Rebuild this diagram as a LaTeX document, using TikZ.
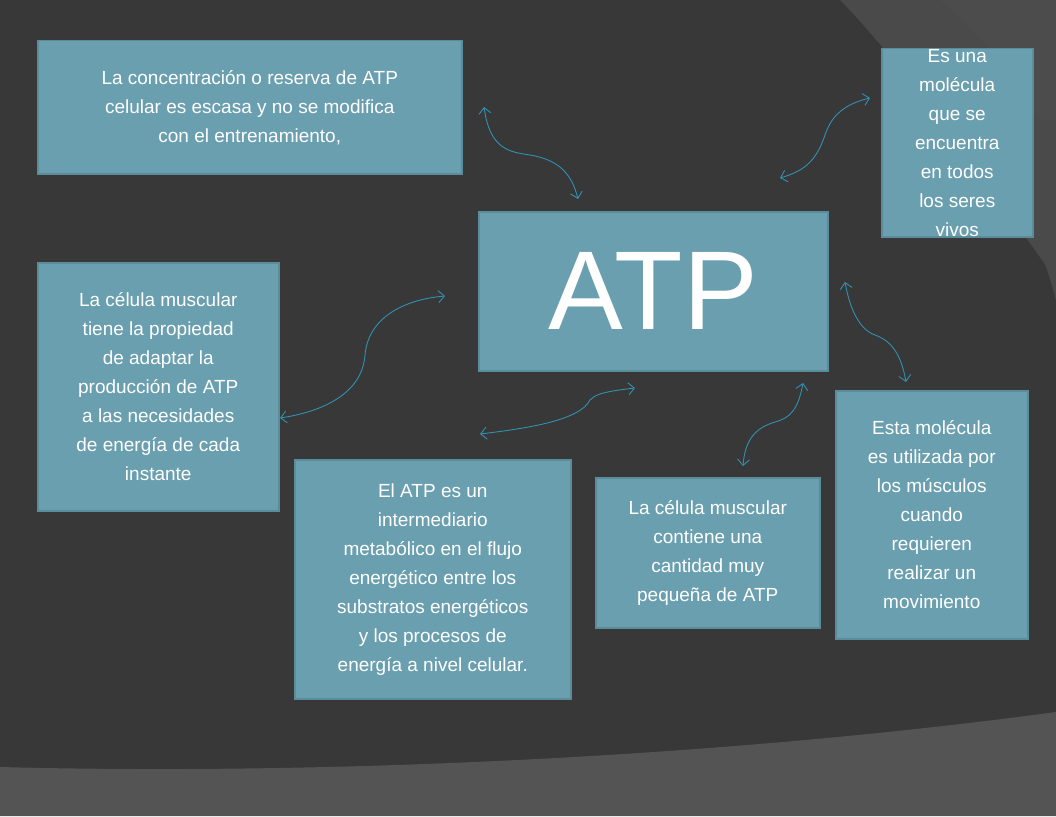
\documentclass[tikz,border=0pt]{standalone}
\usepackage{fontspec}
\setmainfont{Liberation Sans}
\usetikzlibrary{arrows.meta}
\definecolor{bg}{HTML}{383838}
\definecolor{band}{HTML}{545454}
\definecolor{arcc}{HTML}{4A4A4A}
\definecolor{boxf}{HTML}{6A9FB0}
\definecolor{boxd}{HTML}{5A8C9C}
\definecolor{arr}{HTML}{3290B0}
\begin{document}
\begin{tikzpicture}[x=1pt,y=-1pt,
  box/.style={draw=boxd,line width=1.5pt,fill=boxf,text=white,align=center,inner sep=0pt,anchor=north west,font=\fontsize{19}{29}\selectfont},
  link/.style={draw=arr,line width=0.9pt,{Straight Barb[length=6pt,width=12pt]}-{Straight Barb[length=6pt,width=12pt]}}]
\useasboundingbox (0,0) rectangle (1056,816);
\fill[bg] (0,0) rectangle (1056,816);
\fill[arcc] (840,0) .. controls (900,60) and (1000,200) .. (1056,280) -- (1056,0) -- cycle;
\fill[bg!90!white] (940,0) .. controls (990,40) and (1030,100) .. (1056,150) -- (1056,0) -- cycle;
\fill[arcc] (1056,300) .. controls (1030,200) and (980,140) .. (950,120) -- (1056,120) -- cycle;
\fill[band] (0,767) .. controls (300,775) and (700,760) .. (1056,712) -- (1056,816) -- (0,816) -- cycle;
\node[box,minimum width=424pt,minimum height=133pt] (a) at (37,40) {La concentración o reserva de ATP\\celular es escasa y no se modifica\\con el entrenamiento,};
\node[box,minimum width=151pt,minimum height=188pt] (b) at (881,48) {Es una\\molécula\\que se\\encuentra\\en todos\\los seres\\vivos};
\node[box,minimum width=349pt,minimum height=159pt,font=\fontsize{112}{112}\selectfont] (atp) at (478,211) {ATP};
\node[box,minimum width=241pt,minimum height=248pt] (c) at (37,262) {La célula muscular\\tiene la propiedad\\de adaptar la\\producción de ATP\\a las necesidades\\de energía de cada\\instante};
\node[box,minimum width=276pt,minimum height=239pt] (d) at (294,459) {El ATP es un\\intermediario\\metabólico en el flujo\\energético entre los\\substratos energéticos\\y los procesos de\\energía a nivel celular.};
\node[box,minimum width=224pt,minimum height=150pt] (e) at (595,477) {La célula muscular\\contiene una\\cantidad muy\\pequeña de ATP};
\node[box,minimum width=192pt,minimum height=248pt] (f) at (835,390) {Esta molécula\\es utilizada por\\los músculos\\cuando\\requieren\\realizar un\\movimiento};
\coordinate (a1) at (484,107); \coordinate (a2) at (578,199);
\coordinate (b1) at (870,98); \coordinate (b2) at (780,178);
\coordinate (f1) at (845,282); \coordinate (f2) at (906,382);
\coordinate (c1) at (445,296); \coordinate (c2) at (280,418);
\coordinate (d1) at (635,388); \coordinate (d2) at (480,434);
\coordinate (e1) at (803,383); \coordinate (e2) at (743,466);
\draw[link] (a1) .. controls (490,150) and (510,152) .. (530,155) .. controls (560,160) and (572,175) .. (a2);
\draw[link] (b1) .. controls (840,105) and (830,120) .. (825,135) .. controls (815,165) and (800,172) .. (b2);
\draw[link] (f1) .. controls (850,310) and (860,330) .. (875,335) .. controls (895,342) and (902,360) .. (f2);
\draw[link] (c1) .. controls (400,300) and (368,320) .. (365,355) .. controls (362,395) and (320,412) .. (c2);
\draw[link] (d1) .. controls (600,392) and (595,395) .. (590,400) .. controls (580,420) and (530,428) .. (d2);
\draw[link] (e1) .. controls (798,410) and (790,418) .. (775,422) .. controls (755,428) and (745,440) .. (e2);
\end{tikzpicture}
\end{document}
